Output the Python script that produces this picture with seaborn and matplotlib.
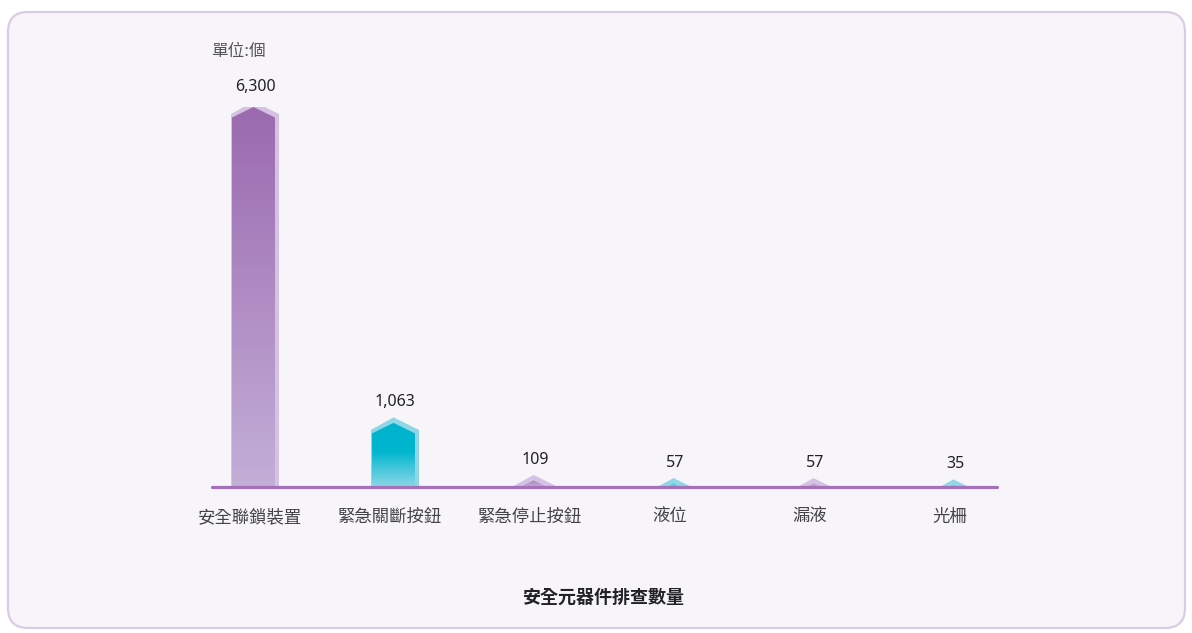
import numpy as np
import pandas as pd
import matplotlib
matplotlib.use("Agg")
import matplotlib.pyplot as plt
from matplotlib.patches import Polygon, FancyBboxPatch
from matplotlib.colors import LinearSegmentedColormap
import seaborn as sns

# ---- data ----
categories = ["安全聯鎖裝置", "緊急關斷按鈕", "緊急停止按鈕", "液位", "漏液", "光柵"]
values = [6300, 1063, 109, 57, 57, 35]
value_labels = ["6,300", "1,063", "109", "57", "57", "35"]
unit_label = "單位:個"
title = "安全元器件排查數量"

sns.set_theme(style="white")
plt.rcParams["font.family"] = ["Noto Sans CJK TC", "DejaVu Sans"]

W, H = 1192, 633
fig = plt.figure(figsize=(W / 100, H / 100), dpi=100, facecolor="white")

# rounded panel
panel = FancyBboxPatch((8 / 100, (H - 628) / 100), 1177 / 100, 616 / 100,
                       boxstyle="round,pad=0,rounding_size=0.2",
                       transform=fig.dpi_scale_trans, facecolor="#f7f5fa",
                       edgecolor="#d9cce6", linewidth=1.6, zorder=-10)
fig.patches.append(panel)

ax_bottom = 487
ax_top = 107
ax = fig.add_axes([180 / W, (H - ax_bottom) / H, 840 / W, (ax_bottom - ax_top) / H])
ax.set_zorder(1)
ax.set_facecolor("none")
ax.patch.set_alpha(0)

df = pd.DataFrame({"category": categories, "value": values})
sns.barplot(data=df, x="category", y="value", ax=ax, width=0.307,
            color="#9e6fb2", saturation=1, errorbar=None)

ax.set_ylim(0, 6300)
ax.set_xlim(-0.5, len(categories) - 0.5)

px_x = 140.0   # pixels per category
px_y = (ax_bottom - ax_top) / 6300.0  # pixels per unit

palettes = [
    (["#9b69af", "#a67dba", "#c3afd8"], "#d4c1e3"),
    (["#00b3cd", "#00b6cf", "#8dd7e7"], "#8fd6e6"),
]

dx = 3.5 / px_x
cap = 10.5 / px_y
outer_extra_w = 4.0 / px_x
outer_extra_h = 5.5 / px_y
outer_cap = 12.5 / px_y

patches = list(ax.patches)
for i, p in enumerate(patches):
    x0 = p.get_x() + dx
    w = p.get_width()
    h = p.get_height()
    p.set_visible(False)
    stops, outer_col = palettes[i % 2]
    ox0 = x0 - 1.0 / px_x
    ow = w + outer_extra_w + 1.0 / px_x
    oh = h + outer_extra_h
    opk = x0 + w / 2
    outer = Polygon([(ox0, -1000), (ox0, oh - outer_cap), (opk, oh),
                     (ox0 + ow, oh - outer_cap), (ox0 + ow, -1000)],
                    closed=True, facecolor=outer_col, edgecolor="none", zorder=2)
    ax.add_patch(outer)
    inner = Polygon([(x0, -1000), (x0, h - cap), (x0 + w / 2, h),
                     (x0 + w, h - cap), (x0 + w, -1000)],
                    closed=True, facecolor="none", edgecolor="none", zorder=3)
    ax.add_patch(inner)
    if i % 2 == 1:
        cmap = LinearSegmentedColormap.from_list("g%d" % i, [(0, stops[2]), (0.55, stops[1]), (1, stops[0])])
    else:
        cmap = LinearSegmentedColormap.from_list("g%d" % i, [(0, stops[2]), (1, stops[0])])
    grad = np.linspace(0, 1, 256).reshape(-1, 1)
    top = max(h, cap)
    im = ax.imshow(grad, cmap=cmap, origin="lower", aspect="auto",
                   extent=[x0, x0 + w, 0, top], zorder=3, interpolation="bicubic")
    im.set_clip_path(inner)
    ax.annotate(value_labels[i], xy=(x0 + w / 2 + 1.5 / px_x, oh), xytext=(0, 5),
                textcoords="offset points", ha="center", va="bottom",
                fontsize=11.5, color="#222222", annotation_clip=False,
                family=["Noto Sans", "DejaVu Sans"])

ax.set_ylim(0, 6300)
ax.set_xlim(-0.5, len(categories) - 0.5)

ax.axhline(0, xmin=(212 - 180) / 840, xmax=(997 - 180) / 840,
           color="#a470b8", linewidth=2.3, zorder=5, clip_on=False)

ax.set_xlabel("")
ax.set_ylabel("")
ax.set_yticks([])
ax.tick_params(axis="x", length=0, pad=15, labelsize=12.5, labelcolor="#444444")
for s in ax.spines.values():
    s.set_visible(False)

fig.text(211 / W, 1 - 51 / H, unit_label, ha="left", va="center",
         fontsize=12, color="#555555")
fig.text(604 / W, 1 - 597 / H, title, ha="center", va="center",
         fontsize=13, fontweight="bold", color="#222222")

fig.savefig("out.png", dpi=100, facecolor="white")
